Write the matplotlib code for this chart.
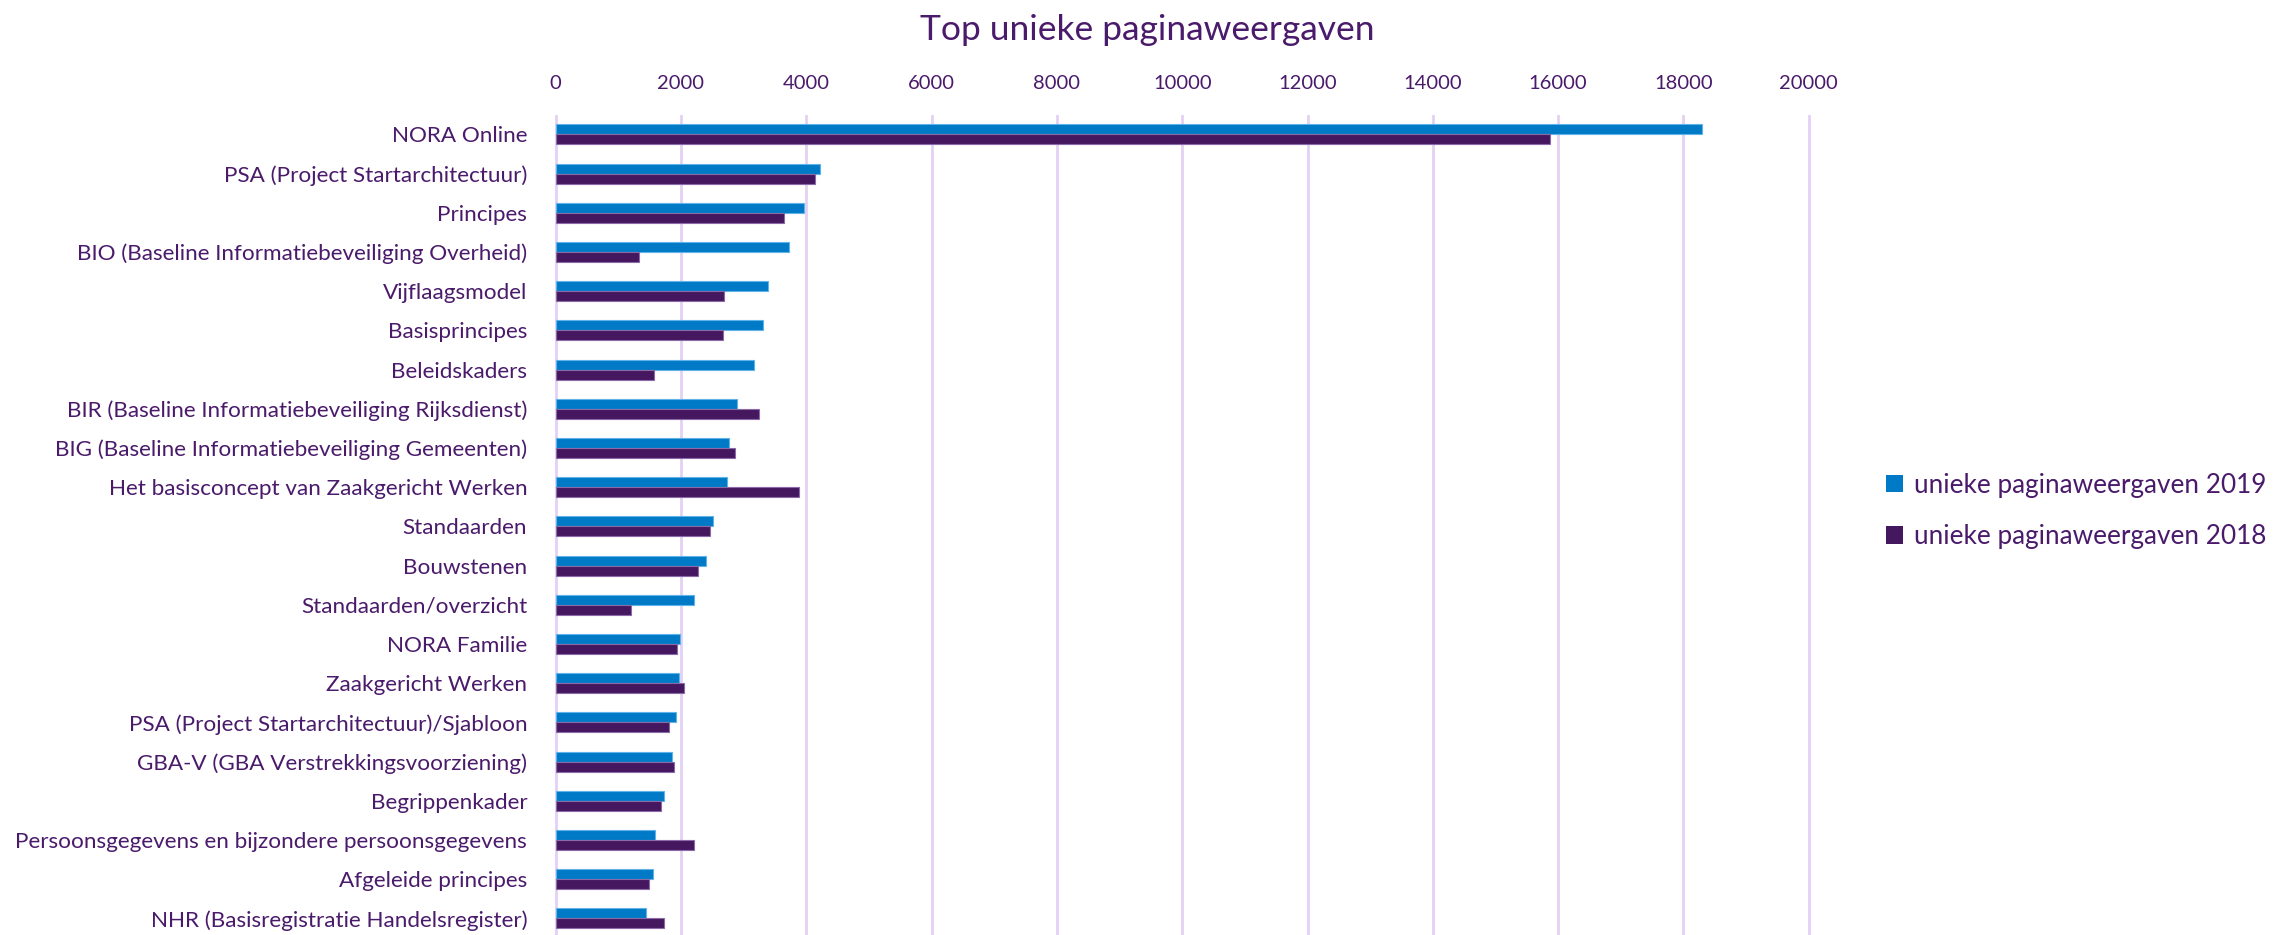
import matplotlib
matplotlib.use("Agg")
import matplotlib.pyplot as plt
from matplotlib.patches import Patch

categories = [
    "NORA Online",
    "PSA (Project Startarchitectuur)",
    "Principes",
    "BIO (Baseline Informatiebeveiliging Overheid)",
    "Vijflaagsmodel",
    "Basisprincipes",
    "Beleidskaders",
    "BIR (Baseline Informatiebeveiliging Rijksdienst)",
    "BIG (Baseline Informatiebeveiliging Gemeenten)",
    "Het basisconcept van Zaakgericht Werken",
    "Standaarden",
    "Bouwstenen",
    "Standaarden/overzicht",
    "NORA Familie",
    "Zaakgericht Werken",
    "PSA (Project Startarchitectuur)/Sjabloon",
    "GBA-V (GBA Verstrekkingsvoorziening)",
    "Begrippenkader",
    "Persoonsgegevens en bijzondere persoonsgegevens",
    "Afgeleide principes",
    "NHR (Basisregistratie Handelsregister)",
]
views_2019 = [18300, 4214, 3969, 3724, 3395, 3304, 3166, 2900, 2772, 2734,
              2511, 2399, 2207, 1984, 1968, 1925, 1851, 1729, 1590, 1553, 1446]
views_2018 = [15876, 4145, 3644, 1330, 2693, 2677, 1569, 3240, 2868, 3890,
              2463, 2271, 1208, 1936, 2048, 1804, 1893, 1676, 2212, 1484, 1729]
series_labels = ["unieke paginaweergaven 2019", "unieke paginaweergaven 2018"]
xticks = list(range(0, 20001, 2000))

TXT = "#4A1A6B"
BLUE = "#0079C6"
PURPLE = "#45175F"
GRID = "#E4D0F4"

plt.rcParams["font.family"] = ["Lato", "DejaVu Sans"]

W, H = 2277, 935
fig = plt.figure(figsize=(W / 100, H / 100), dpi=100)

# axes placement in pixels
x0_px = 555.7 - 6.3
x1_px = 1808.7 + 6.3
top_px = 114.7
bot_px = 938.1
ax = fig.add_axes([x0_px / W, 1 - bot_px / H, (x1_px - x0_px) / W, (bot_px - top_px) / H])

n = len(categories)
pos = list(range(n))
h = 0.255
ax.barh([p - h / 2 for p in pos], views_2019, height=h, color=BLUE,
        edgecolor="#5FB3E8", linewidth=0.8, label=series_labels[0], zorder=3)
ax.barh([p + h / 2 for p in pos], views_2018, height=h, color=PURPLE,
        edgecolor="#8A6AA6", linewidth=0.8, label=series_labels[1], zorder=3)

ax.set_ylim(n - 0.5, -0.5)
ax.set_xlim(-100, 20100)
ax.set_yticks(pos)
ax.set_yticklabels(categories, fontsize=16.2, color=TXT)
ax.set_xticks(xticks)
ax.set_xticklabels([str(t) for t in xticks], fontsize=14.5, color=TXT)
ax.xaxis.tick_top()
ax.tick_params(axis="both", length=0)
ax.tick_params(axis="x", pad=16)
ax.tick_params(axis="y", pad=16)
for s in ax.spines.values():
    s.set_visible(False)
ax.xaxis.grid(True, color=GRID, linewidth=2, zorder=0)
ax.set_axisbelow(True)

fig.text(0.504, 1 - 30 / H, "Top unieke paginaweergaven", ha="center", va="center",
         fontsize=25.5, color=TXT)

handles = [Patch(facecolor=BLUE, edgecolor="none"), Patch(facecolor=PURPLE, edgecolor="none")]
fig.legend(handles, series_labels, loc="center left",
           bbox_to_anchor=(1876 / W, 1 - 511 / H), frameon=False,
           fontsize=18.8, labelcolor=TXT, handlelength=0.65, handleheight=0.65,
           handletextpad=0.4, labelspacing=1.0, borderaxespad=0)

fig.savefig("out.png", dpi=100)
